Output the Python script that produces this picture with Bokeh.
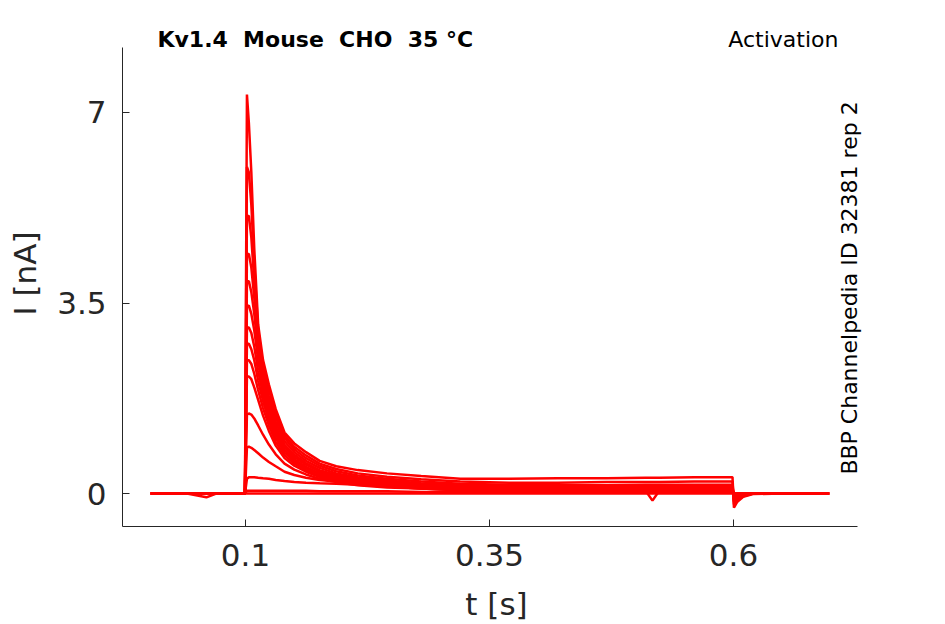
from math import pi

from bokeh.embed import file_html
from bokeh.models import CustomJSTickFormatter, FixedTicker, Label
from bokeh.plotting import figure
from bokeh.resources import INLINE

# sample times [s] shared by all sweeps
t = [0.003, 0.04, 0.06, 0.07, 0.0995,
     0.1015, 0.1035, 0.106, 0.109, 0.113, 0.118, 0.124, 0.131, 0.14, 0.15,
     0.162, 0.176, 0.193, 0.215, 0.245, 0.28, 0.32,
     0.37, 0.42, 0.47, 0.51, 0.517, 0.524, 0.56, 0.599,
     0.6005, 0.604, 0.61, 0.62, 0.65, 0.698]

# current [nA] of each sweep
sweep_a = [0, 0, 0, 0, 0,
           7.33, 6.8, 5.9, 4.5, 3.1, 2.45, 2.0, 1.55, 1.12, 0.92, 0.76, 0.6, 0.5, 0.43, 0.37, 0.32, 0.27,
           0.27, 0.28, 0.28, 0.29, 0.29, 0.29, 0.30, 0.30,
           -0.26, -0.15, -0.06, -0.01, 0, 0]
sweep_b = [0, 0, 0, 0, 0,
           6.0, 5.9, 5.3, 4.2, 3.0, 2.35, 1.9, 1.47, 1.07, 0.86, 0.7, 0.55, 0.45, 0.37, 0.31, 0.26, 0.22,
           0.2, 0.2, 0.21, 0.21, 0.21, 0.21, 0.22, 0.22,
           -0.2, -0.12, -0.05, 0, 0, 0]
sweep_c = [0, 0, 0, 0, 0,
           5.1, 5.1, 4.7, 3.9, 2.9, 2.25, 1.8, 1.39, 1.02, 0.81, 0.65, 0.51, 0.41, 0.33, 0.27, 0.22, 0.18,
           0.16, 0.15, 0.15, 0.16, 0.16, 0.16, 0.16, 0.16,
           -0.15, -0.09, -0.03, 0, 0, 0]
sweep_d = [0, 0, 0, 0, 0,
           4.4, 4.4, 4.15, 3.6, 2.75, 2.15, 1.7, 1.31, 0.96, 0.76, 0.6, 0.47, 0.37, 0.3, 0.24, 0.19, 0.16,
           0.14, 0.13, 0.13, 0.13, 0.13, 0.13, 0.14, 0.14,
           -0.12, -0.07, -0.02, 0, 0, 0]
sweep_e = [0, 0, 0, 0, 0,
           3.9, 3.9, 3.7, 3.3, 2.6, 2.05, 1.6, 1.23, 0.9, 0.71, 0.56, 0.43, 0.34, 0.27, 0.21, 0.17, 0.14,
           0.12, 0.11, 0.11, 0.11, 0.11, 0.11, 0.12, 0.12,
           -0.1, -0.05, -0.02, 0, 0, 0]
sweep_f = [0, 0, 0, 0, 0,
           3.45, 3.45, 3.3, 3.0, 2.45, 1.95, 1.52, 1.16, 0.85, 0.67, 0.53, 0.4, 0.31, 0.24, 0.19, 0.15, 0.12,
           0.1, 0.09, 0.09, 0.05, -0.13, 0.05, 0.09, 0.1,
           -0.08, -0.04, -0.01, 0, 0, 0]
sweep_g = [0, 0, -0.07, 0, 0,
           3.05, 3.05, 2.95, 2.7, 2.25, 1.82, 1.43, 1.09, 0.8, 0.63, 0.49, 0.37, 0.29, 0.22, 0.17, 0.13, 0.11,
           0.09, 0.08, 0.08, 0.08, 0.08, 0.08, 0.09, 0.09,
           -0.07, -0.03, -0.01, 0, 0, 0]
sweep_h = [0, 0, 0, 0, 0,
           2.75, 2.75, 2.65, 2.45, 2.07, 1.7, 1.34, 1.02, 0.75, 0.59, 0.46, 0.35, 0.27, 0.2, 0.15, 0.12, 0.1,
           0.08, 0.07, 0.07, 0.07, 0.07, 0.07, 0.08, 0.08,
           -0.06, -0.03, 0, 0, 0, 0]
sweep_i = [0, 0, 0, 0, 0,
           2.45, 2.45, 2.38, 2.2, 1.9, 1.57, 1.25, 0.95, 0.7, 0.55, 0.43, 0.32, 0.25, 0.18, 0.14, 0.11, 0.09,
           0.07, 0.06, 0.06, 0.06, 0.06, 0.06, 0.07, 0.07,
           -0.05, -0.02, 0, 0, 0, 0]
sweep_j = [0, 0, 0, 0, 0,
           2.15, 2.15, 2.1, 1.95, 1.72, 1.43, 1.15, 0.88, 0.65, 0.51, 0.4, 0.3, 0.23, 0.17, 0.13, 0.1, 0.08,
           0.06, 0.05, 0.05, 0.05, 0.05, 0.05, 0.06, 0.06,
           -0.04, -0.02, 0, 0, 0, 0]
sweep_k = [0, 0, 0, 0, 0,
           1.45, 1.47, 1.45, 1.38, 1.25, 1.08, 0.9, 0.72, 0.55, 0.44, 0.35, 0.27, 0.21, 0.15, 0.11, 0.09, 0.07,
           0.05, 0.04, 0.04, 0.04, 0.04, 0.04, 0.05, 0.05,
           -0.03, -0.01, 0, 0, 0, 0]
sweep_l = [0, 0, 0, 0, 0,
           0.85, 0.86, 0.84, 0.8, 0.74, 0.66, 0.58, 0.5, 0.4, 0.34, 0.29, 0.25, 0.22, 0.18, 0.13, 0.09, 0.06,
           0.04, 0.04, 0.04, 0.04, 0.04, 0.04, 0.04, 0.04,
           -0.02, 0, 0, 0, 0, 0]
sweep_m = [0, 0, 0, 0, 0,
           0.27, 0.3, 0.3, 0.3, 0.29, 0.28, 0.27, 0.25, 0.23, 0.21, 0.2, 0.19, 0.18, 0.16, 0.13, 0.09, 0.06,
           0.03, 0.03, 0.03, 0.03, 0.03, 0.03, 0.03, 0.03,
           0, 0, 0, 0, 0, 0]
sweep_n = [0, 0, 0, 0, 0,
           0.05, 0.05, 0.05, 0.05, 0.05, 0.05, 0.05, 0.05, 0.05, 0.05, 0.05, 0.04, 0.04, 0.04, 0.04, 0.03, 0.03,
           0.03, 0.03, 0.03, 0.03, 0.03, 0.03, 0.03, 0.03,
           0, 0, 0, 0, 0, 0]
sweep_o = [0, 0, 0, 0, 0,
           0, 0, 0, 0, 0, 0, 0, 0, 0, 0, 0, 0, 0, 0, 0, 0, 0,
           0, 0, 0, 0, 0, 0, 0, 0,
           0, 0, 0, 0, 0, 0]

sweeps = [sweep_a, sweep_b, sweep_c, sweep_d, sweep_e, sweep_f, sweep_g, sweep_h,
          sweep_i, sweep_j, sweep_k, sweep_l, sweep_m, sweep_n, sweep_o]

x_ticks = [0.1, 0.35, 0.6]
y_ticks = [0, 3.5, 7]

# nbsp + space keeps the double gaps from collapsing in svg
title_text = "Kv1.4\u00a0 Mouse\u00a0 CHO\u00a0 35 °C"
protocol_text = "Activation"
source_text = "BBP Channelpedia ID 32381 rep 2"

FONT = "DejaVu Sans"
INK = "#262626"

# axes box spans t -0.026..0.727 and I -0.606..8.194; the frame is a bit larger
# so that the texts around the top and right edges are not clipped
T_LO, T_HI = -0.026, 0.727
I_LO, I_HI = -0.606, 8.194

p = figure(width=945, height=624, x_range=(T_LO, 0.7404), y_range=(I_LO, 8.690),
           output_backend="svg", toolbar_location=None,
           min_border_left=122, min_border_right=75, min_border_top=20, min_border_bottom=98)
p.outline_line_color = None
p.grid.visible = False

for ys in sweeps:
    p.line(t, ys, line_color="red", line_width=2.5)

p.xaxis.ticker = FixedTicker(ticks=x_ticks)
p.yaxis.ticker = FixedTicker(ticks=y_ticks)
fmt = CustomJSTickFormatter(code="return tick.toString()")
p.xaxis.formatter = fmt
p.yaxis.formatter = fmt
p.xaxis.axis_label = "t [s]"
p.yaxis.axis_label = "I [nA]"
p.xaxis.bounds = (T_LO, T_HI)
p.yaxis.bounds = (I_LO, I_HI)

for ax in (p.xaxis, p.yaxis):
    ax.axis_line_color = INK
    ax.major_tick_line_color = INK
    ax.major_tick_in = 7
    ax.major_tick_out = 0
    ax.minor_tick_line_color = None
    ax.major_label_text_font = FONT
    ax.major_label_text_font_size = "31px"
    ax.major_label_text_color = INK
    ax.axis_label_text_font = FONT
    ax.axis_label_text_font_size = "31px"
    ax.axis_label_text_font_style = "normal"
    ax.axis_label_text_color = INK

p.xaxis.major_label_standoff = 17
p.xaxis.axis_label_standoff = 17
p.yaxis.major_label_standoff = 16
p.yaxis.axis_label_standoff = 11

p.add_layout(Label(x=0.0098, y=8.341, text=title_text,
                   text_font=FONT, text_font_size="22px", text_font_style="bold",
                   text_color="black", text_align="left", text_baseline="alphabetic"))
p.add_layout(Label(x=0.7076, y=8.341, text=protocol_text,
                   text_font=FONT, text_font_size="22px", text_color="black",
                   text_align="right", text_baseline="alphabetic"))
p.add_layout(Label(x=0.7189, y=3.776, text=source_text,
                   text_font=FONT, text_font_size="22px", text_color="black", angle=pi / 2,
                   text_align="center", text_baseline="alphabetic"))

open("out.html", "w").write(file_html(p, INLINE))
